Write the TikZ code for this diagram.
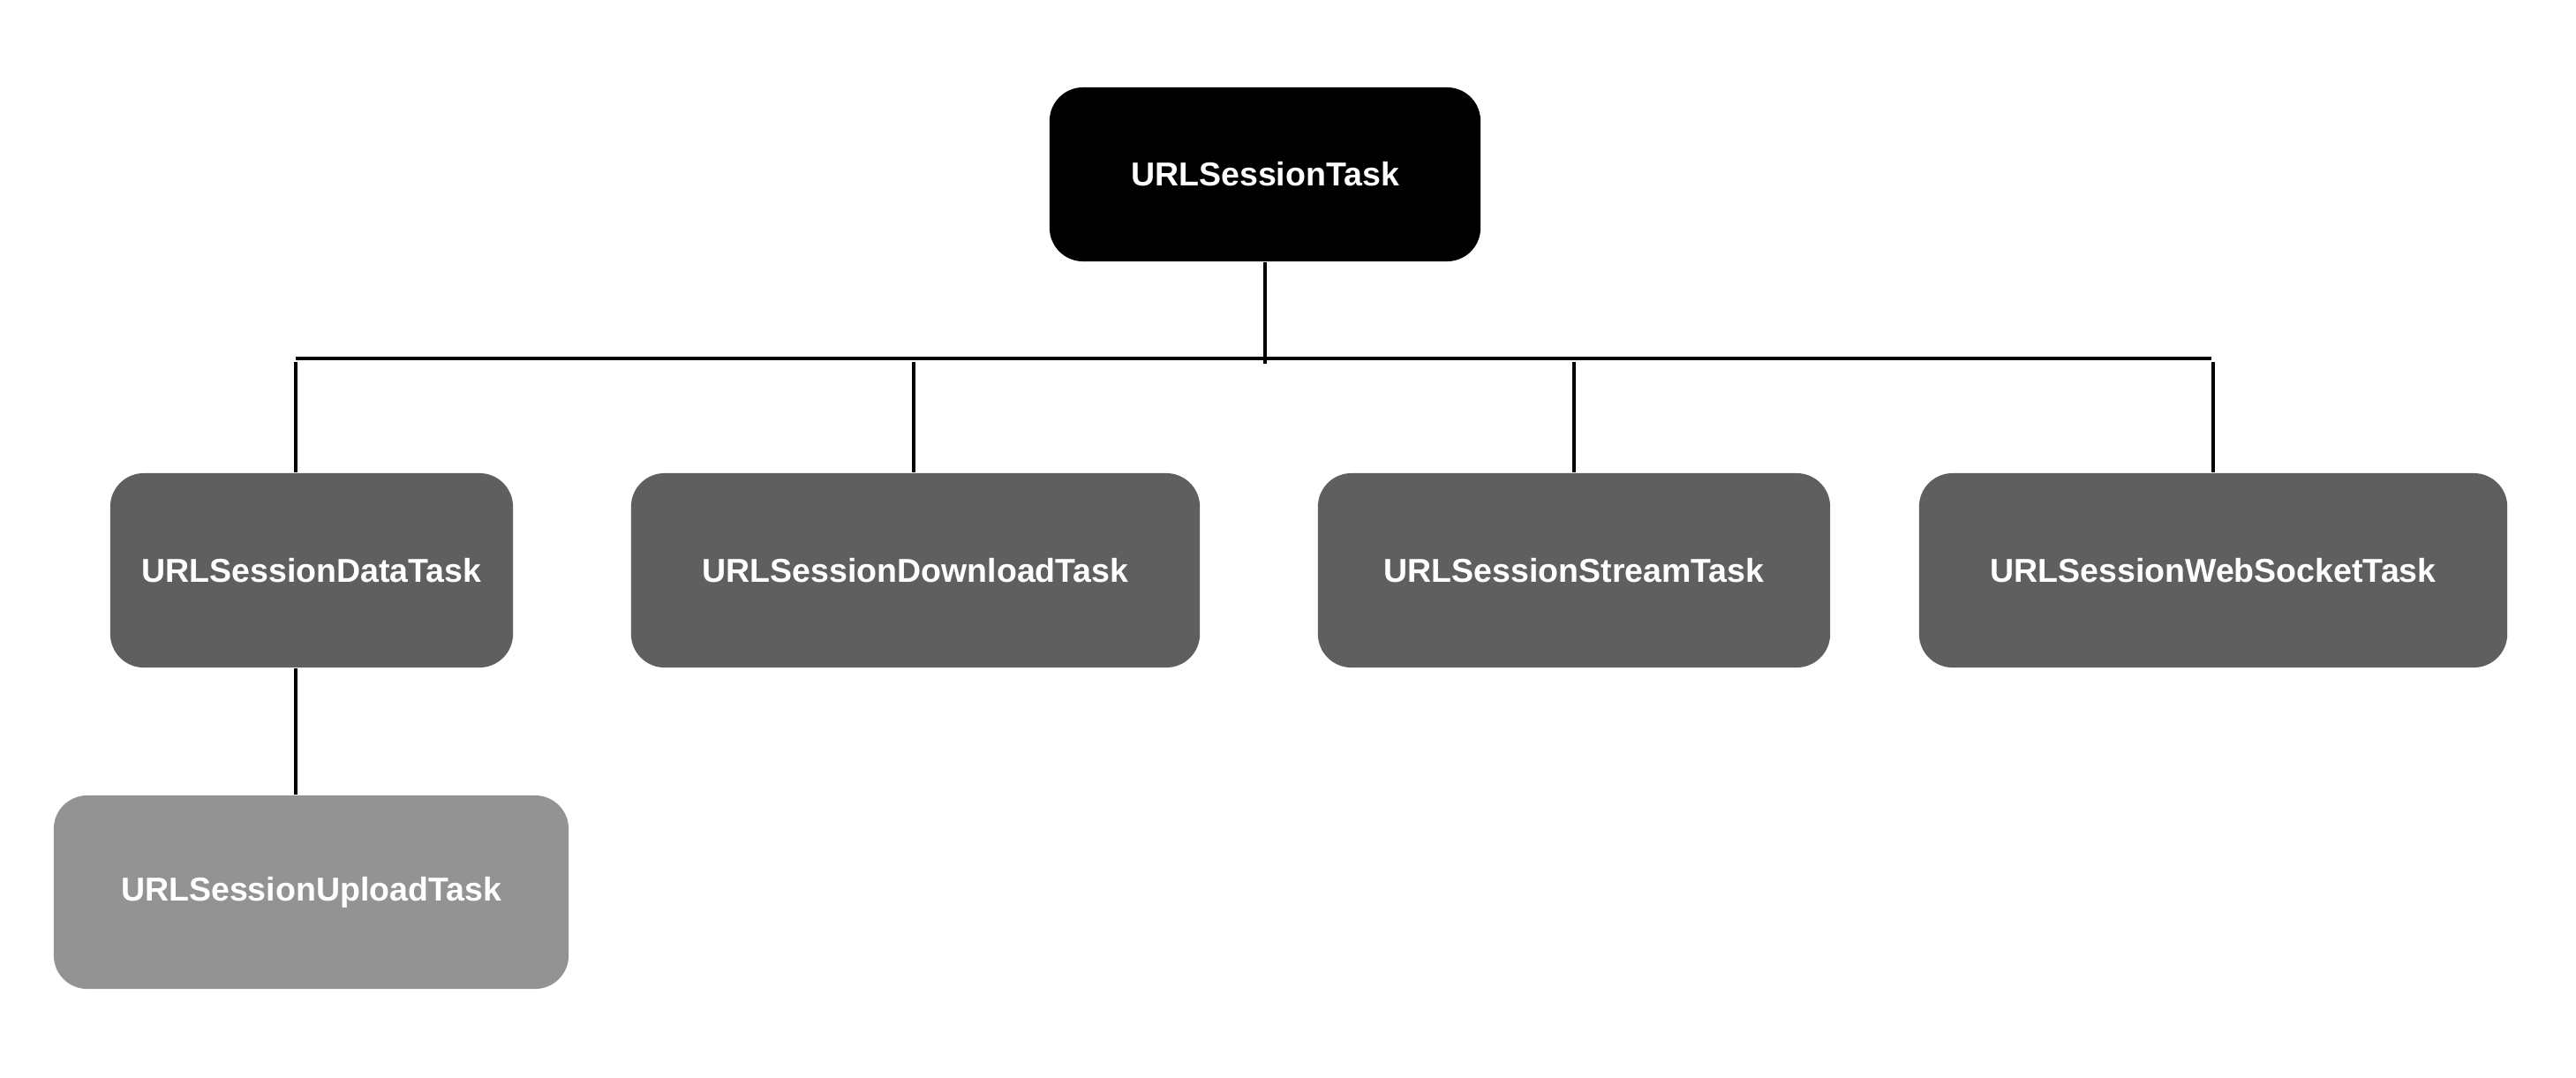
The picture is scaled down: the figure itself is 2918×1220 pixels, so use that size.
\documentclass[tikz,border=0pt]{standalone}
\usepackage{fontspec}
\setmainfont{Liberation Sans}
\definecolor{midgray}{HTML}{5F5F5F}
\definecolor{lightgray}{HTML}{939393}
\tikzset{
  box/.style={rectangle, rounded corners=0.38cm, inner sep=0pt, text=white,
    font=\fontsize{10.67}{12}\selectfont\bfseries, minimum height=2.2cm},
  topbox/.style={box, fill=black, minimum height=1.97cm},
  midbox/.style={box, fill=midgray},
  lowbox/.style={box, fill=lightgray},
  conn/.style={draw=black, line width=0.9pt}
}
\begin{document}
\begin{tikzpicture}[x=0.01cm, y=-0.01cm]
\useasboundingbox (0,0) rectangle (2918,1220);
\node[topbox, minimum width=4.88cm] (top) at (1433,197.5) {URLSessionTask};
\node[midbox, minimum width=4.56cm] (data) at (353,646) {URLSessionDataTask};
\node[midbox, minimum width=6.44cm] (download) at (1037,646) {URLSessionDownloadTask};
\node[midbox, minimum width=5.80cm] (stream) at (1783,646) {URLSessionStreamTask};
\node[midbox, minimum width=6.66cm] (websocket) at (2507,646) {URLSessionWebSocketTask};
\node[lowbox, minimum width=5.83cm, minimum height=2.19cm] (upload) at (352.5,1010.5) {URLSessionUploadTask};
\coordinate (jT) at (1433,412);
\coordinate (bL) at (335,406);
\coordinate (bR) at (2505,406);
\coordinate (d1) at (335,410);
\coordinate (d2) at (1035,410);
\coordinate (d3) at (1783,410);
\coordinate (d4) at (2507,410);
\draw[conn] (top.south) -- (jT);
\draw[conn] (bL) -- (bR);
\draw[conn] (d1) -- (d1 |- data.north);
\draw[conn] (d2) -- (d2 |- download.north);
\draw[conn] (d3) -- (d3 |- stream.north);
\draw[conn] (d4) -- (d4 |- websocket.north);
\draw[conn] (data.south -| d1) -- (upload.north -| d1);
\end{tikzpicture}
\end{document}
